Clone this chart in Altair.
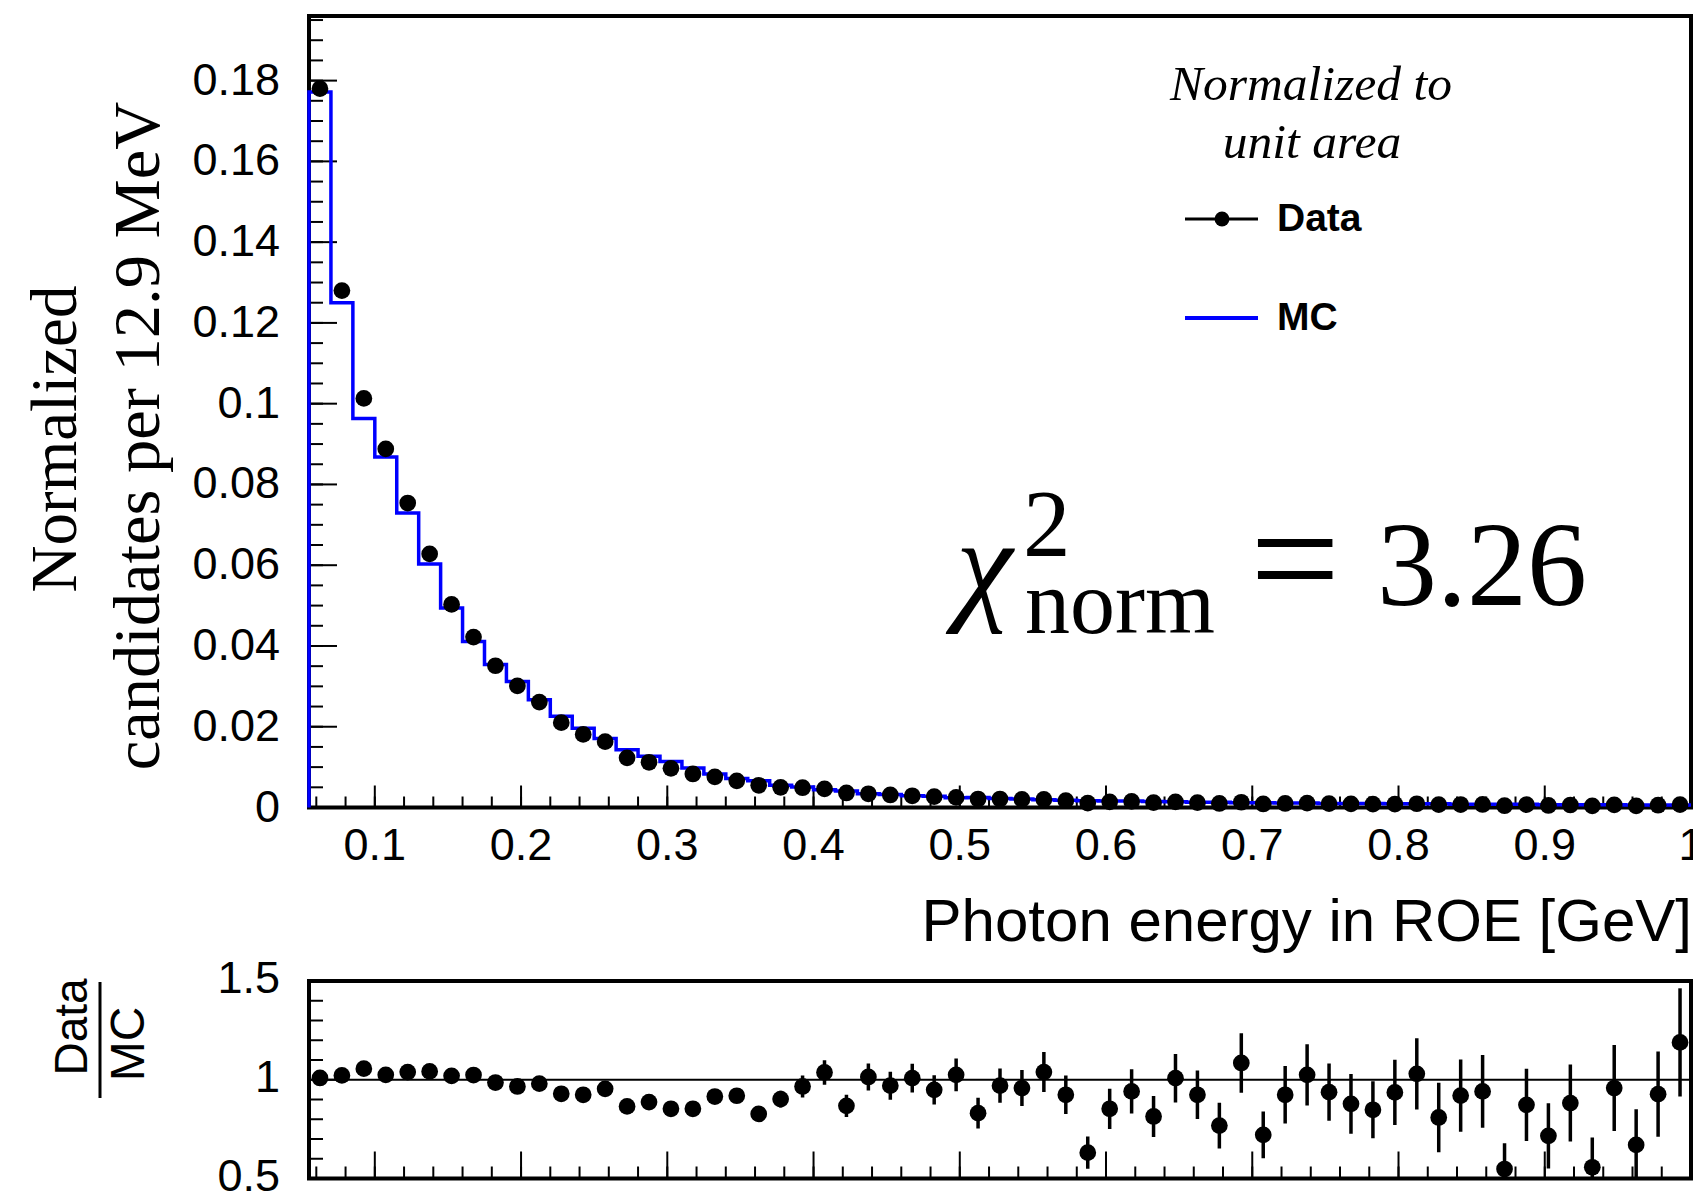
import altair as alt
import pandas as pd

# ---------------- values ----------------
X_MIN, X_MAX, N_BINS = 0.055, 1.0, 63

data_vals = [
    0.1780, 0.1280, 0.1013, 0.0888, 0.0754, 0.0628, 0.0503, 0.0422, 0.0351, 0.0301,
    0.0261, 0.0210, 0.0181, 0.0163, 0.0123, 0.0112, 0.0097, 0.0083, 0.0076, 0.0066,
    0.0055, 0.0050, 0.0049, 0.0046, 0.0036, 0.0034, 0.0031, 0.0029, 0.0027, 0.0025,
    0.0021, 0.0021, 0.0020, 0.0020, 0.0017, 0.0011, 0.0014, 0.0015, 0.0012, 0.0014,
    0.0012, 0.0010, 0.0013, 0.00087, 0.0010, 0.0011, 0.00094, 0.00088, 0.00085, 0.00084,
    0.00093, 0.00073, 0.00074, 0.00075, 0.00044, 0.00070, 0.00050, 0.00062, 0.00039, 0.00067,
    0.00040, 0.00056, 0.00071,
]

mc_vals = [
    0.1772, 0.1250, 0.0963, 0.0868, 0.0729, 0.0603, 0.0494, 0.0411, 0.0354, 0.0312,
    0.0267, 0.0226, 0.0196, 0.0171, 0.0143, 0.0127, 0.0114, 0.0098, 0.0083, 0.0072,
    0.0066, 0.0055, 0.0051, 0.0044, 0.0041, 0.0034, 0.0032, 0.0029, 0.0028, 0.0024,
    0.0025, 0.0022, 0.0021, 0.0019, 0.0018, 0.0017, 0.0016, 0.0016, 0.0015, 0.0014,
    0.0013, 0.0013, 0.0012, 0.0012, 0.0011, 0.0011, 0.0010, 0.0010, 0.0010, 0.0009,
    0.0009, 0.0009, 0.0008, 0.0008, 0.0008, 0.0008, 0.0007, 0.0007, 0.0007, 0.0007,
    0.0006, 0.0006, 0.0006,
]

ratio_vals = [
    1.009, 1.022, 1.056, 1.025, 1.039, 1.042, 1.020, 1.024, 0.986, 0.966,
    0.980, 0.929, 0.924, 0.954, 0.865, 0.887, 0.853, 0.853, 0.915, 0.919,
    0.827, 0.902, 0.966, 1.037, 0.868, 1.014, 0.970, 1.008, 0.949, 1.025,
    0.831, 0.970, 0.958, 1.039, 0.924, 0.631, 0.853, 0.941, 0.814, 1.008,
    0.924, 0.768, 1.085, 0.721, 0.924, 1.025, 0.937, 0.878, 0.848, 0.936,
    1.030, 0.809, 0.920, 0.941, 0.548, 0.873, 0.716, 0.882, 0.557, 0.958,
    0.670, 0.927, 1.189,
]

ratio_errs = [
    0.006, 0.007, 0.008, 0.009, 0.010, 0.011, 0.012, 0.013, 0.015, 0.016,
    0.018, 0.020, 0.022, 0.024, 0.026, 0.028, 0.030, 0.032, 0.034, 0.036,
    0.040, 0.042, 0.056, 0.062, 0.056, 0.068, 0.071, 0.073, 0.074, 0.083,
    0.078, 0.087, 0.091, 0.101, 0.097, 0.082, 0.102, 0.112, 0.104, 0.123,
    0.123, 0.116, 0.151, 0.118, 0.146, 0.155, 0.145, 0.151, 0.144, 0.165,
    0.180, 0.176, 0.183, 0.184, 0.130, 0.183, 0.165, 0.195, 0.150, 0.218,
    0.180, 0.216, 0.274,
]

y_major_vals = [0.0, 0.02, 0.04, 0.06, 0.08, 0.10, 0.12, 0.14, 0.16, 0.18]
y_major_labels = ["0", "0.02", "0.04", "0.06", "0.08", "0.1", "0.12", "0.14", "0.16", "0.18"]
x_major_vals = [0.1, 0.2, 0.3, 0.4, 0.5, 0.6, 0.7, 0.8, 0.9, 1.0]
x_major_labels = ["0.1", "0.2", "0.3", "0.4", "0.5", "0.6", "0.7", "0.8", "0.9", "1"]
r_major_vals = [0.5, 1.0, 1.5]
r_major_labels = ["0.5", "1", "1.5"]
x_minor_vals = [round(0.06 + 0.02 * k, 3) for k in range(48)]
y_minor_vals = [round(0.005 * k, 3) for k in range(40)]
r_minor_vals = [0.6, 0.7, 0.8, 0.9, 1.1, 1.2, 1.3, 1.4]

# ---------------- layout (pixels) ----------------
W = 1382
H = 1162.5
H_TOP = 791.5
R_TOP = 965
Y_TOP_MAX = 0.196

BW = (X_MAX - X_MIN) / N_BINS
centers = [X_MIN + (i + 0.5) * BW for i in range(N_BINS)]

pts = pd.DataFrame({"x": centers, "y": data_vals, "r": ratio_vals, "e": ratio_errs})

step_rows = [{"x": X_MIN, "y": 0.0, "o": 0}]
for i, v in enumerate(mc_vals):
    step_rows.append({"x": X_MIN + i * BW, "y": v, "o": i + 1})
step_rows.append({"x": X_MAX, "y": mc_vals[-1], "o": N_BINS + 1})
step = pd.DataFrame(step_rows)

ONE = pd.DataFrame({"k": [0]})

xs = alt.Scale(domain=[X_MIN, X_MAX], nice=False, zero=False)
ys_top = alt.Scale(domain=[0, Y_TOP_MAX], range=[H_TOP, 0], nice=False, zero=False)
ys_rat = alt.Scale(domain=[0.5, 1.5], range=[H, R_TOP], nice=False, zero=False)

SANS = "Liberation Sans"
SERIF = "Liberation Serif"


def xq(field="x"):
    return alt.X(f"{field}:Q", scale=xs, axis=None)


def text(t, x, y, size, font=SANS, style="normal", weight="normal",
         align="left", baseline="alphabetic", angle=0, color="black"):
    return alt.Chart(ONE).mark_text(
        text=t, font=font, fontSize=size, fontStyle=style, fontWeight=weight,
        align=align, baseline=baseline, angle=angle, color=color
    ).encode(x=alt.value(x), y=alt.value(y))


layers = []

# ---- frames ----
layers.append(alt.Chart(ONE).mark_rect(fill="transparent", stroke="black", strokeWidth=4).encode(
    x=alt.X(datum=X_MIN, scale=xs, axis=None), x2=alt.X2(datum=X_MAX),
    y=alt.Y(datum=0.0, scale=ys_top, axis=None), y2=alt.Y2(datum=Y_TOP_MAX)))
layers.append(alt.Chart(ONE).mark_rect(fill="transparent", stroke="black", strokeWidth=4).encode(
    x=alt.X(datum=X_MIN, scale=xs, axis=None), x2=alt.X2(datum=X_MAX),
    y=alt.Y(datum=0.5, scale=ys_rat, axis=None), y2=alt.Y2(datum=1.5)))

# ---- ticks (drawn inside the frames) ----
def xticks(vals, ybase, length):
    df = pd.DataFrame({"x": vals})
    return alt.Chart(df).mark_rule(color="black", strokeWidth=2).encode(
        x=xq(), y=alt.value(ybase), y2=alt.value(ybase - length))


def yticks(vals, scale, length):
    df = pd.DataFrame({"v": vals})
    return alt.Chart(df).mark_rule(color="black", strokeWidth=2).encode(
        y=alt.Y("v:Q", scale=scale, axis=None), x=alt.value(0), x2=alt.value(length))


layers += [
    xticks(x_minor_vals, H_TOP, 11), xticks(x_major_vals, H_TOP, 22),
    xticks(x_minor_vals, H, 12), xticks(x_major_vals, H, 27),
    yticks(y_minor_vals, ys_top, 14), yticks(y_major_vals, ys_top, 28),
    yticks(r_minor_vals, ys_rat, 14), yticks(r_major_vals, ys_rat, 28),
]

# ---- tick labels ----
layers.append(alt.Chart(pd.DataFrame({"v": y_major_vals, "t": y_major_labels})).mark_text(
    align="right", baseline="middle", font=SANS, fontSize=45, color="black").encode(
    y=alt.Y("v:Q", scale=ys_top, axis=None), x=alt.value(-29), text="t:N"))
layers.append(alt.Chart(pd.DataFrame({"v": r_major_vals, "t": r_major_labels})).mark_text(
    align="right", baseline="middle", font=SANS, fontSize=45, color="black", dy=-2).encode(
    y=alt.Y("v:Q", scale=ys_rat, axis=None), x=alt.value(-29), text="t:N"))
layers.append(alt.Chart(pd.DataFrame({"x": x_major_vals, "t": x_major_labels})).mark_text(
    align="center", baseline="middle", font=SANS, fontSize=45, color="black").encode(
    x=xq(), y=alt.value(830), text="t:N"))

# ---- MC histogram ----
layers.append(alt.Chart(step).mark_line(interpolate="step-after", color="#0000ff", strokeWidth=3.5).encode(
    x=xq(), y=alt.Y("y:Q", scale=ys_top, axis=None), order=alt.Order("o:Q")))

# ---- data points ----
layers.append(alt.Chart(pts).mark_circle(size=280, color="black", opacity=1).encode(
    x=xq(), y=alt.Y("y:Q", scale=ys_top, axis=None)))

# ---- ratio panel ----
layers.append(alt.Chart(ONE).mark_rule(color="black", strokeWidth=2).encode(
    x=alt.X(datum=X_MIN, scale=xs, axis=None), x2=alt.X2(datum=X_MAX),
    y=alt.Y(datum=1.0, scale=ys_rat, axis=None)))
layers.append(alt.Chart(pts).transform_calculate(
    lo="datum.r - datum.e", hi="datum.r + datum.e").mark_rule(
    color="black", strokeWidth=3.5, clip=True).encode(
    x=xq(), y=alt.Y("lo:Q", scale=ys_rat, axis=None), y2="hi:Q"))
layers.append(alt.Chart(pts).mark_circle(size=280, color="black", opacity=1, clip=True).encode(
    x=xq(), y=alt.Y("r:Q", scale=ys_rat, axis=None)))

# ---- legend ----
layers.append(text("Normalized to", 1002, 84, 49.5, font=SERIF, style="italic", align="center"))
layers.append(text("unit area", 1003, 142, 49.5, font=SERIF, style="italic", align="center"))
layers.append(alt.Chart(ONE).mark_rule(color="black", strokeWidth=3).encode(
    x=alt.value(876), x2=alt.value(949), y=alt.value(203)))
layers.append(alt.Chart(ONE).mark_circle(size=220, color="black", opacity=1).encode(
    x=alt.value(913), y=alt.value(203)))
layers.append(text("Data", 968, 203, 39, weight="bold", baseline="middle"))
layers.append(alt.Chart(ONE).mark_rule(color="#0000ff", strokeWidth=4).encode(
    x=alt.value(876), x2=alt.value(949), y=alt.value(302)))
layers.append(text("MC", 968, 302, 39, weight="bold", baseline="middle"))

# ---- chi2 annotation ----
layers.append(text("\u03c7", 647, 591, 128, font=SERIF, style="italic"))
layers.append(text("2", 714, 540, 95, font=SERIF))
layers.append(text("norm", 716, 617, 90, font=SERIF))
layers.append(text("=", 941, 596, 160, font=SERIF))
layers.append(text("3.26", 1068, 589, 120, font=SERIF))

# ---- axis titles ----
layers.append(text("Photon energy in ROE [GeV]", 1383, 925, 60, align="right"))
layers.append(text("Normalized", -253, 423, 65, font=SERIF, align="center", baseline="middle", angle=270))
layers.append(text("candidates per 12.9 MeV", -170, 420, 66.5, font=SERIF, align="center",
                   baseline="middle", angle=270))
layers.append(text("Data", -236, 1011, 46, align="center", baseline="middle", angle=270))
layers.append(text("MC", -179, 1028, 48, align="center", baseline="middle", angle=270))
layers.append(alt.Chart(ONE).mark_rule(color="black", strokeWidth=3).encode(
    x=alt.value(-209), y=alt.value(966), y2=alt.value(1082)))

chart = alt.layer(*layers).resolve_scale(y="independent").properties(
    width=W, height=H,
    autosize=alt.AutoSizeParams(type="none"),
    padding={"left": 301, "top": 8, "right": 2, "bottom": 16},
).configure_view(stroke=None)

chart.save("out.html", embed_options={"renderer": "svg", "actions": False})
